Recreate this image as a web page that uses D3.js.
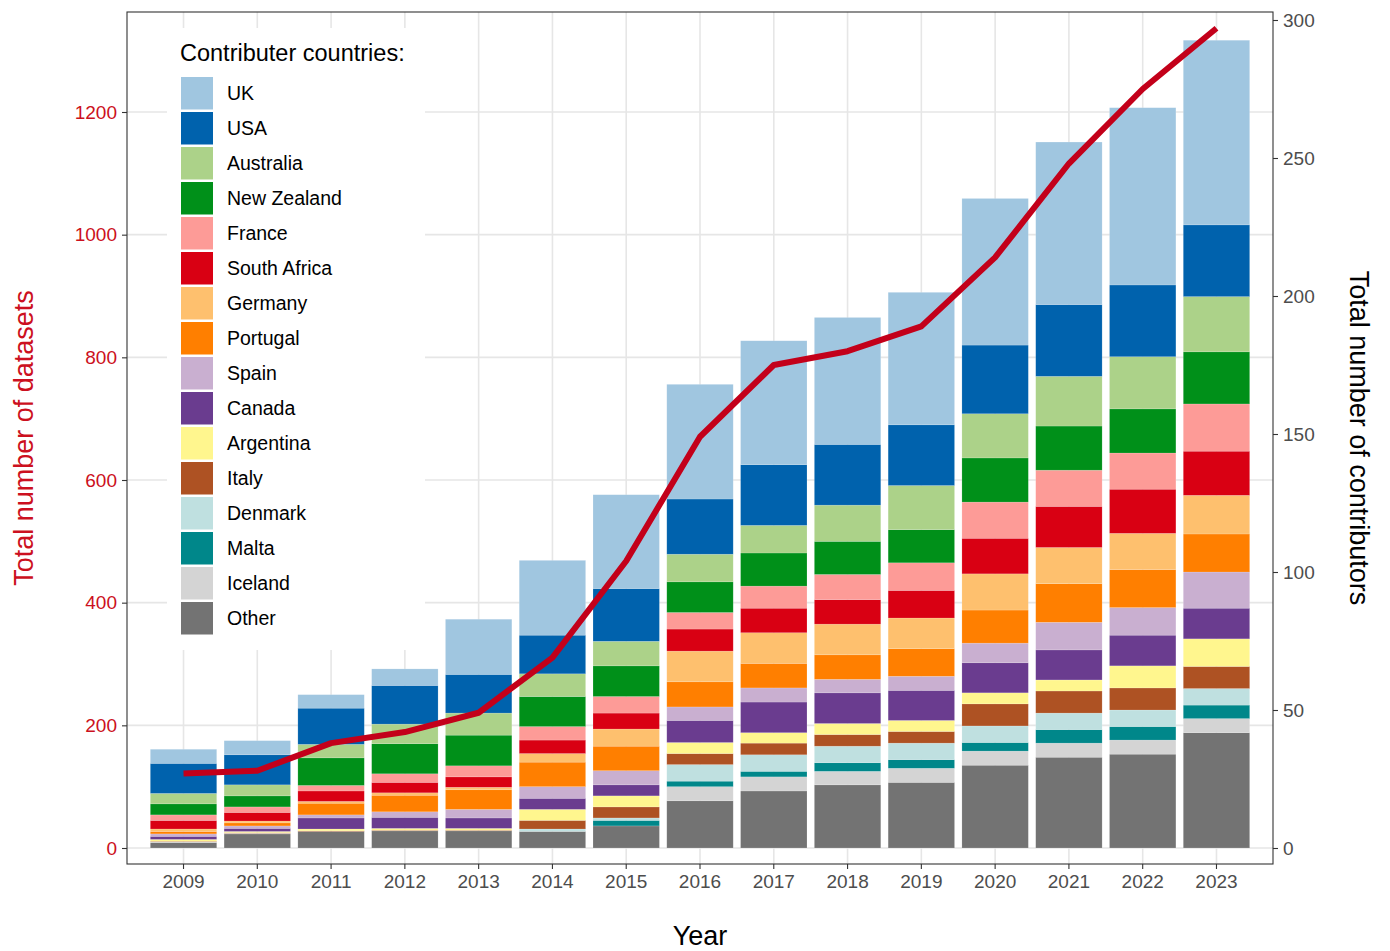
<!DOCTYPE html>
<html>
<head>
<meta charset="utf-8">
<script src="https://cdn.jsdelivr.net/npm/d3@7"></script>
<style>
  body { margin: 0; background: #fff; }
  svg text { font-family: "Liberation Sans", Arial, sans-serif; }
</style>
</head>
<body>
<div id="chart"></div>
<script>
// dati (dataset per paese e anno, contributori totali)
const years = [2009, 2010, 2011, 2012, 2013, 2014, 2015, 2016, 2017, 2018, 2019, 2020, 2021, 2022, 2023];

// ordine della legenda (dall'alto verso il basso)
const countries = ['UK', 'USA', 'Australia', 'New Zealand', 'France', 'South Africa', 'Germany',
    'Portugal', 'Spain', 'Canada', 'Argentina', 'Italy', 'Denmark', 'Malta', 'Iceland', 'Other'];

const uk          = [23, 23, 22, 27, 90, 122, 153, 187, 202, 207, 216, 239, 265, 289, 301];
const usa         = [49, 49, 59, 63, 63, 63, 86, 90, 99, 99, 99, 112, 117, 117, 117];
const australia   = [17, 18, 22, 32, 36, 37, 40, 45, 45, 59, 72, 72, 81, 85, 90];
const newZealand  = [18, 18, 45, 49, 50, 49, 50, 50, 54, 54, 54, 72, 72, 72, 85];
const france      = [9, 9, 9, 14, 18, 22, 27, 27, 36, 41, 45, 59, 59, 59, 77];
const southAfrica = [14, 14, 17, 17, 17, 22, 26, 36, 40, 40, 45, 58, 67, 72, 72];
const germany     = [4, 3, 3, 4, 4, 14, 28, 50, 50, 50, 50, 59, 59, 59, 63];
const portugal    = [4, 5, 19, 27, 32, 40, 40, 41, 40, 40, 45, 54, 63, 62, 62];
const spain       = [4, 4, 5, 9, 14, 19, 23, 22, 23, 22, 23, 32, 45, 45, 59];
const canada      = [5, 5, 18, 18, 17, 18, 18, 36, 50, 50, 49, 49, 49, 50, 50];
const argentina   = [3, 2, 3, 3, 3, 18, 18, 18, 17, 18, 18, 18, 18, 36, 45];
const italy       = [1, 1, 1, 1, 1, 14, 18, 18, 19, 19, 19, 36, 36, 36, 36];
const denmark     = [0, 0, 0, 0, 0, 4, 4, 27, 27, 27, 27, 27, 27, 27, 27];
const malta       = [0, 0, 0, 0, 0, 0, 9, 9, 9, 14, 14, 14, 22, 22, 22];
const iceland     = [1, 1, 0, 0, 0, 0, 0, 23, 23, 22, 23, 23, 23, 23, 23];
const other       = [9, 23, 27, 28, 28, 27, 36, 77, 93, 103, 107, 135, 148, 153, 188];

// contributori totali (asse destro)
const contributors = [27, 28, 38, 42, 49, 69, 104, 149, 175, 180, 189, 214, 248, 275, 297];

const leftTicks = [0, 200, 400, 600, 800, 1000, 1200];
const rightTicks = [0, 50, 100, 150, 200, 250, 300];

const colors = ['#a0c6e0', '#0062ad', '#acd289', '#009019', '#fd9b97', '#d90013', '#fec06e',
    '#ff7f00', '#c9afd0', '#6a3c8f', '#fff68e', '#ae5223', '#bfe0e0', '#00878a', '#d4d4d4', '#737373'];

// tabella per lo stack
const series = [uk, usa, australia, newZealand, france, southAfrica, germany, portugal,
    spain, canada, argentina, italy, denmark, malta, iceland, other];
const table = years.map((y, i) => {
    const row = { year: y };
    countries.forEach((c, k) => row[c] = series[k][i]);
    return row;
});

const W = 1390, H = 951;
const panel = { left: 127, right: 1273, top: 12, bottom: 864 };
const red = '#cc1020';
const textGrey = '#4d4d4d';

const svg = d3.select('#chart')
    .append('svg')
    .attr('width', W)
    .attr('height', H);

// scale
const x = d3.scaleBand()
    .domain(years)
    .range([panel.left, panel.right])
    .paddingInner(0.1)
    .paddingOuter(0.316);

const yLeft = d3.scaleLinear().domain([0, 1200]).range([848, 112]);
// asse secondario: 1 contributore = 4.5 dataset
const yRight = d3.scaleLinear().domain([0, 300]).range([yLeft(0), yLeft(1350)]);

const color = d3.scaleOrdinal().domain(countries).range(colors);

// griglia
const grid = svg.append('g').attr('class', 'grid');
grid.selectAll('.hgrid')
    .data(leftTicks)
    .join('line')
    .attr('x1', panel.left).attr('x2', panel.right)
    .attr('y1', d => yLeft(d)).attr('y2', d => yLeft(d))
    .attr('stroke', '#e6e6e6').attr('stroke-width', 1.6);
grid.selectAll('.vgrid')
    .data(years)
    .join('line')
    .attr('x1', d => x(d) + x.bandwidth() / 2).attr('x2', d => x(d) + x.bandwidth() / 2)
    .attr('y1', panel.top).attr('y2', panel.bottom)
    .attr('stroke', '#e6e6e6').attr('stroke-width', 1.6);

// legenda: sfondo bianco sopra la griglia
const legend = svg.append('g').attr('class', 'legend');
legend.append('rect')
    .attr('x', 167).attr('y', 28)
    .attr('width', 258).attr('height', 622)
    .attr('fill', '#fff');

// barre impilate (dal basso: Other ... UK)
const stack = d3.stack().keys(countries.slice().reverse());
const layers = stack(table);

svg.append('g')
    .selectAll('g')
    .data(layers)
    .join('g')
    .attr('fill', d => color(d.key))
    .selectAll('rect')
    .data(d => d)
    .join('rect')
    .attr('x', d => x(d.data.year))
    .attr('width', x.bandwidth())
    .attr('y', d => yLeft(d[1]))
    .attr('height', d => yLeft(d[0]) - yLeft(d[1]))
    .attr('stroke', 'rgba(255,255,255,0.25)')
    .attr('stroke-width', 0.6);

// linea dei contributori
const line = d3.line()
    .x((d, i) => x(years[i]) + x.bandwidth() / 2)
    .y(d => yRight(d));

svg.append('path')
    .datum(contributors)
    .attr('d', line)
    .attr('fill', 'none')
    .attr('stroke', '#c3001a')
    .attr('stroke-width', 6)
    .attr('stroke-linejoin', 'round');

// bordo del pannello
svg.append('rect')
    .attr('x', panel.left).attr('y', panel.top)
    .attr('width', panel.right - panel.left)
    .attr('height', panel.bottom - panel.top)
    .attr('fill', 'none')
    .attr('stroke', '#333')
    .attr('stroke-width', 1.1);

// assi
const axisLeft = svg.append('g')
    .attr('transform', `translate(${panel.left},0)`)
    .call(d3.axisLeft(yLeft).tickValues(leftTicks).tickFormat(d3.format('d')).tickSize(5).tickPadding(5));
axisLeft.selectAll('text').attr('fill', red).style('font-size', '19px');

const axisRight = svg.append('g')
    .attr('transform', `translate(${panel.right},0)`)
    .call(d3.axisRight(yRight).tickValues(rightTicks).tickFormat(d3.format('d')).tickSize(5).tickPadding(5));
axisRight.selectAll('text').attr('fill', textGrey).style('font-size', '19px');

const axisBottom = svg.append('g')
    .attr('transform', `translate(0,${panel.bottom})`)
    .call(d3.axisBottom(x).tickSize(5).tickPadding(6));
axisBottom.selectAll('text').attr('fill', textGrey).style('font-size', '19px');

[axisLeft, axisRight, axisBottom].forEach(a => {
    a.select('.domain').remove();
    a.selectAll('.tick line').attr('stroke', '#333').attr('stroke-width', 1.1);
});

// titoli degli assi
svg.append('text')
    .attr('transform', `translate(33,${(panel.top + panel.bottom) / 2}) rotate(-90)`)
    .attr('text-anchor', 'middle')
    .attr('fill', red)
    .style('font-size', '27px')
    .text('Total number of datasets');

svg.append('text')
    .attr('transform', `translate(1350,${(panel.top + panel.bottom) / 2}) rotate(90)`)
    .attr('text-anchor', 'middle')
    .attr('fill', '#000')
    .style('font-size', '27px')
    .text('Total number of contributors');

svg.append('text')
    .attr('x', (panel.left + panel.right) / 2)
    .attr('y', 945)
    .attr('text-anchor', 'middle')
    .attr('fill', '#000')
    .style('font-size', '27px')
    .text('Year');

// contenuto della legenda
legend.append('text')
    .attr('x', 180).attr('y', 61)
    .attr('fill', '#000')
    .style('font-size', '23.5px')
    .text('Contributer countries:');

legend.selectAll('.item')
    .data(countries)
    .join('g')
    .attr('class', 'item')
    .attr('transform', (d, i) => `translate(181, ${77 + i * 35})`)
    .each(function(d) {
        const g = d3.select(this);
        g.append('rect')
            .attr('width', 32).attr('height', 32.5)
            .attr('fill', color(d));
        g.append('text')
            .attr('x', 46)
            .attr('y', 16.5)
            .attr('dy', '0.35em')
            .attr('fill', '#000')
            .style('font-size', '19.5px')
            .text(d);
    });
</script>
</body>
</html>
